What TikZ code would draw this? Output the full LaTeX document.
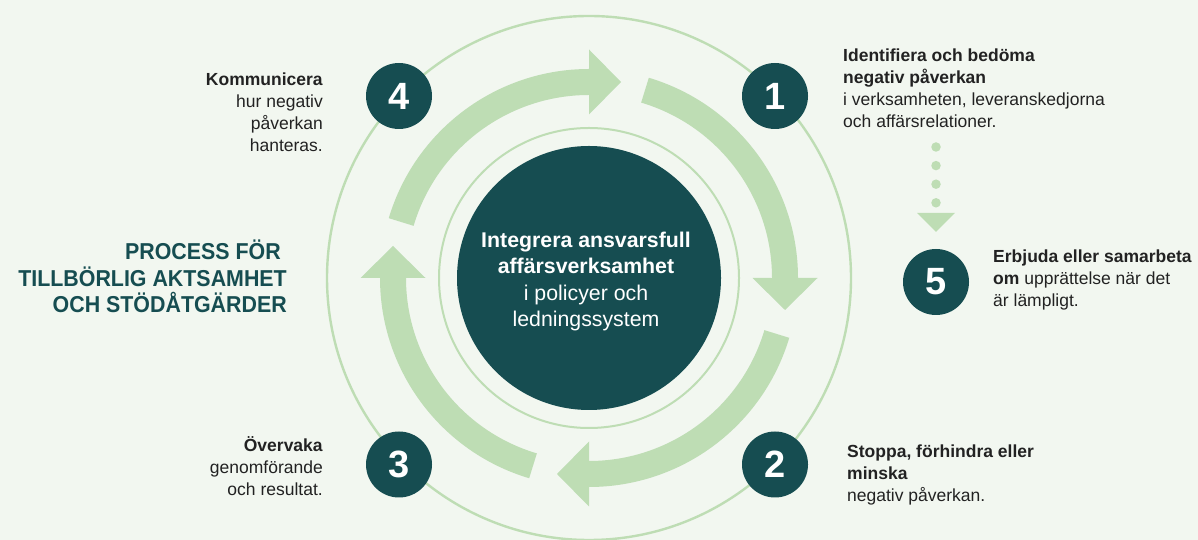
\documentclass[tikz,border=0pt]{standalone}
\usepackage{fontspec}
\setmainfont{Liberation Sans}
\newfontfamily\headfont[FakeStretch=0.93]{Liberation Sans}
\usetikzlibrary{arrows.meta, positioning, calc}

\definecolor{bgcol}{HTML}{F2F7F0}
\definecolor{tealdark}{HTML}{164D51}
\definecolor{leafgreen}{HTML}{BEDDB4}
\definecolor{textgray}{HTML}{222222}

\begin{document}
\begin{tikzpicture}[x=1pt, y=1pt]
    \tikzstyle{ring} = [draw=leafgreen, line width=2.4pt]
    \tikzstyle{cyclearrow} = [draw=leafgreen, line width=26pt, -{Triangle[length=32pt, width=65pt, line width=0pt]}]
    \tikzstyle{stepnum} = [circle, fill=tealdark, minimum size=66pt, inner sep=0pt, text=white, font=\fontsize{38}{38}\selectfont\bfseries]
    \tikzstyle{stepleft} = [anchor=north east, align=right, inner sep=0pt, text=textgray, font=\fontsize{17.5}{22}\selectfont]
    \tikzstyle{stepright} = [anchor=north west, align=left, inner sep=0pt, text=textgray, font=\fontsize{17.5}{22}\selectfont]
    \tikzstyle{dotline} = [draw=leafgreen, line width=9.5pt, line cap=round, dash pattern=on 0pt off 18.6pt, -{Triangle[length=19pt, width=38pt, line width=0pt]}]

    \useasboundingbox (0,0) rectangle (1198,540);
    \fill[bgcol] (0,0) rectangle (1198,540);

    \coordinate (c) at (589,262);

    % rings and core
    \draw[ring] (c) circle[radius=262pt];
    \draw[ring, line width=2pt] (c) circle[radius=150pt];
    \node (core) [circle, fill=tealdark, minimum size=264pt, inner sep=0pt] at (c) {};
    \node (coretext) [anchor=north, align=center, inner sep=0pt, text=white, font=\fontsize{21.3}{26.3}\selectfont] at (586,308)
        {\textbf{Integrera ansvarsfull}\\ \textbf{affärsverksamhet}\\ i policyer och\\ ledningssystem};

    % cycle arrows
    \coordinate (a1) at ($(c)+(73.4:196)$);
    \coordinate (a2) at ($(c)+(-16.6:196)$);
    \coordinate (a3) at ($(c)+(-106.6:196)$);
    \coordinate (a4) at ($(c)+(163.4:196)$);
    \draw[cyclearrow] (a1) arc[start angle=73.4, end angle=0, radius=196pt] -- ++(-90:32);
    \draw[cyclearrow] (a2) arc[start angle=-16.6, end angle=-90, radius=196pt] -- ++(180:32);
    \draw[cyclearrow] (a3) arc[start angle=-106.6, end angle=-180, radius=196pt] -- ++(90:32);
    \draw[cyclearrow] (a4) arc[start angle=163.4, end angle=90, radius=196pt] -- ++(0:32);

    % steps
    \node (n1) [stepnum] at (775,444) {1};
    \node (n2) [stepnum] at (775,75.5) {2};
    \node (n3) [stepnum] at (399,75.5) {3};
    \node (n4) [stepnum] at (399,444) {4};
    \node (n5) [stepnum] at (936,258) {5};

    \node (t1) [stepright] at (843,491) {\textbf{Identifiera och bedöma}\\ \textbf{negativ påverkan}\\ i verksamheten, leveranskedjorna\\ och affärsrelationer.};
    \node (t2) [stepright] at (847,95) {\textbf{Stoppa, förhindra eller}\\ \textbf{minska}\\ negativ påverkan.};
    \node (t3) [stepleft] at (323,103.5) {\textbf{Övervaka}\\ genomförande\\ och resultat.};
    \node (t4) [stepleft] at (323,467.5) {\textbf{Kommunicera}\\ hur negativ\\ påverkan\\ hanteras.};
    \node (t5) [stepright] at (993,290) {\textbf{Erbjuda eller samarbeta}\\ \textbf{om} upprättelse när det\\ är lämpligt.};

    \coordinate (dtop) at (936,393);
    \draw[dotline, shorten >=17pt] (dtop) -- (n5.north);

    \node (title) [anchor=north east, align=right, inner sep=0pt, text=tealdark, font=\headfont\bfseries\fontsize{23}{26.5}\selectfont] at (287,300)
        {PROCESS FÖR\hspace*{6pt}\\ TILLBÖRLIG AKTSAMHET\\ OCH STÖDÅTGÄRDER};
\end{tikzpicture}
\end{document}
